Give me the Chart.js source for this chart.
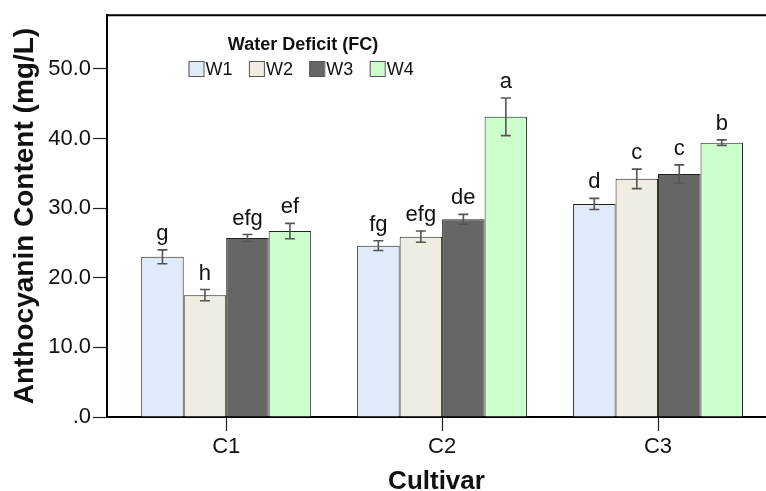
<!DOCTYPE html>
<html>
<head>
<meta charset="utf-8">
<script src="https://cdn.jsdelivr.net/npm/chart.js@4.4.1/dist/chart.umd.min.js"></script>
<style>
  html, body { margin: 0; padding: 0; background: #fff; overflow: hidden; }
  #wrap { width: 766px; height: 491px; }
</style>
</head>
<body>
<div id="wrap"><canvas id="chart" width="766" height="491"></canvas></div>
<script>
// Données
const cultivars = ['C1', 'C2', 'C3'];
const treatments = ['W1', 'W2', 'W3', 'W4'];
const w1Values = [23.0, 24.6, 30.6];
const w2Values = [17.5, 25.9, 34.2];
const w3Values = [25.7, 28.4, 34.9];
const w4Values = [26.7, 43.1, 39.4];
const w1Errors = [1.0, 0.7, 0.8];
const w2Errors = [0.8, 0.8, 1.4];
const w3Errors = [0.5, 0.7, 1.3];
const w4Errors = [1.1, 2.7, 0.4];
const w1Letters = ['g', 'fg', 'd'];
const w2Letters = ['h', 'efg', 'c'];
const w3Letters = ['efg', 'de', 'c'];
const w4Letters = ['ef', 'a', 'b'];
const yTicks = [0, 10, 20, 30, 40, 50];

const colors = ['#dfebf8', '#efede1', '#666666', '#ccffcc'];
const allValues = [w1Values, w2Values, w3Values, w4Values];
const allErrors = [w1Errors, w2Errors, w3Errors, w4Errors];
const allLetters = [w1Letters, w2Letters, w3Letters, w4Letters];

const FONT = "'Liberation Sans', Arial, sans-serif";

// Barres d'erreur et lettres de significativité
const errorBarPlugin = {
    id: 'errorBars',
    afterDatasetsDraw(chart) {
        const ctx = chart.ctx;
        const yScale = chart.scales.y;
        ctx.save();
        chart.data.datasets.forEach(function(ds, di) {
            const meta = chart.getDatasetMeta(di);
            meta.data.forEach(function(bar, i) {
                const v = allValues[di][i];
                const e = allErrors[di][i];
                const yTop = yScale.getPixelForValue(v + e);
                const yBot = yScale.getPixelForValue(v - e);
                ctx.strokeStyle = '#555';
                ctx.lineWidth = 1.6;
                ctx.beginPath();
                ctx.moveTo(bar.x, yTop); ctx.lineTo(bar.x, yBot);
                ctx.moveTo(bar.x - 5, yTop); ctx.lineTo(bar.x + 5, yTop);
                ctx.moveTo(bar.x - 5, yBot); ctx.lineTo(bar.x + 5, yBot);
                ctx.stroke();
                ctx.fillStyle = '#111';
                ctx.font = '22px ' + FONT;
                ctx.textAlign = 'center';
                ctx.textBaseline = 'alphabetic';
                ctx.fillText(allLetters[di][i], bar.x, yTop - 10);
            });
        });
        ctx.restore();
    }
};

// Cadre supérieur et légende
const framePlugin = {
    id: 'frame',
    afterDraw(chart) {
        const ctx = chart.ctx;
        const area = chart.chartArea;
        ctx.save();
        ctx.strokeStyle = '#000';
        ctx.lineWidth = 2;
        ctx.beginPath();
        ctx.moveTo(area.left - 1, area.top);
        ctx.lineTo(area.right, area.top);
        ctx.stroke();

        ctx.fillStyle = '#111';
        ctx.font = 'bold 18px ' + FONT;
        ctx.textAlign = 'center';
        ctx.textBaseline = 'middle';
        ctx.fillText('Water Deficit (FC)', 303, 45);

        ctx.font = '18px ' + FONT;
        ctx.textAlign = 'left';
        treatments.forEach(function(t, i) {
            const x = 188.5 + i * 60.4;
            ctx.fillStyle = colors[i];
            ctx.fillRect(x, 61.5, 15, 15);
            ctx.strokeStyle = '#555';
            ctx.lineWidth = 1;
            ctx.strokeRect(x + 0.5, 61.5, 15, 15);
            ctx.fillStyle = '#111';
            ctx.fillText(t, x + 17, 70);
        });
        ctx.restore();
    }
};

const datasets = treatments.map(function(t, di) {
    return {
        label: t,
        data: allValues[di].map(function(v, i) { return { x: i, y: v }; }),
        backgroundColor: colors[di],
        borderColor: '#222',
        borderWidth: 1,
        borderSkipped: 'bottom',
        categoryPercentage: 0.787,
        barPercentage: 1.0
    };
});

new Chart(document.getElementById('chart'), {
    type: 'bar',
    data: { datasets: datasets },
    options: {
        responsive: false,
        animation: false,
        devicePixelRatio: 1,
        layout: { padding: { top: 15, right: 0, left: 0, bottom: 0 } },
        plugins: {
            legend: { display: false },
            tooltip: { enabled: false }
        },
        scales: {
            x: {
                type: 'linear',
                min: -0.552,
                max: 2.5,
                offset: false,
                afterFit: function(scale) { scale.height = 74; },
                afterBuildTicks: function(scale) {
                    scale.ticks = cultivars.map(function(c, i) { return { value: i }; });
                },
                ticks: {
                    callback: function(v) { return cultivars[v]; },
                    color: '#111',
                    font: { family: FONT, size: 22 },
                    padding: 3,
                    maxRotation: 0
                },
                grid: { offset: false, drawOnChartArea: false, tickLength: 14, tickColor: '#222', tickWidth: 1.2 },
                border: { color: '#000', width: 2 },
                title: {
                    display: true,
                    text: 'Cultivar',
                    color: '#111',
                    padding: 0,
                    font: { family: FONT, size: 26, weight: 'bold', lineHeight: 0.72 }
                }
            },
            y: {
                min: 0,
                max: 57.7,
                afterFit: function(scale) { scale.width = 107; },
                afterBuildTicks: function(scale) {
                    scale.ticks = yTicks.map(function(v) { return { value: v }; });
                },
                ticks: {
                    callback: function(v) { return v === 0 ? '.0' : v.toFixed(1); },
                    color: '#111',
                    font: { family: FONT, size: 22 },
                    padding: 2
                },
                grid: { drawOnChartArea: false, tickLength: 14, tickColor: '#222', tickWidth: 1.2 },
                border: { color: '#000', width: 2 },
                title: {
                    display: true,
                    text: 'Anthocyanin Content (mg/L)',
                    color: '#111',
                    padding: 0,
                    font: { family: FONT, size: 28, weight: 'bold', lineHeight: 1.79 }
                }
            }
        }
    },
    plugins: [errorBarPlugin, framePlugin]
});
</script>
</body>
</html>
